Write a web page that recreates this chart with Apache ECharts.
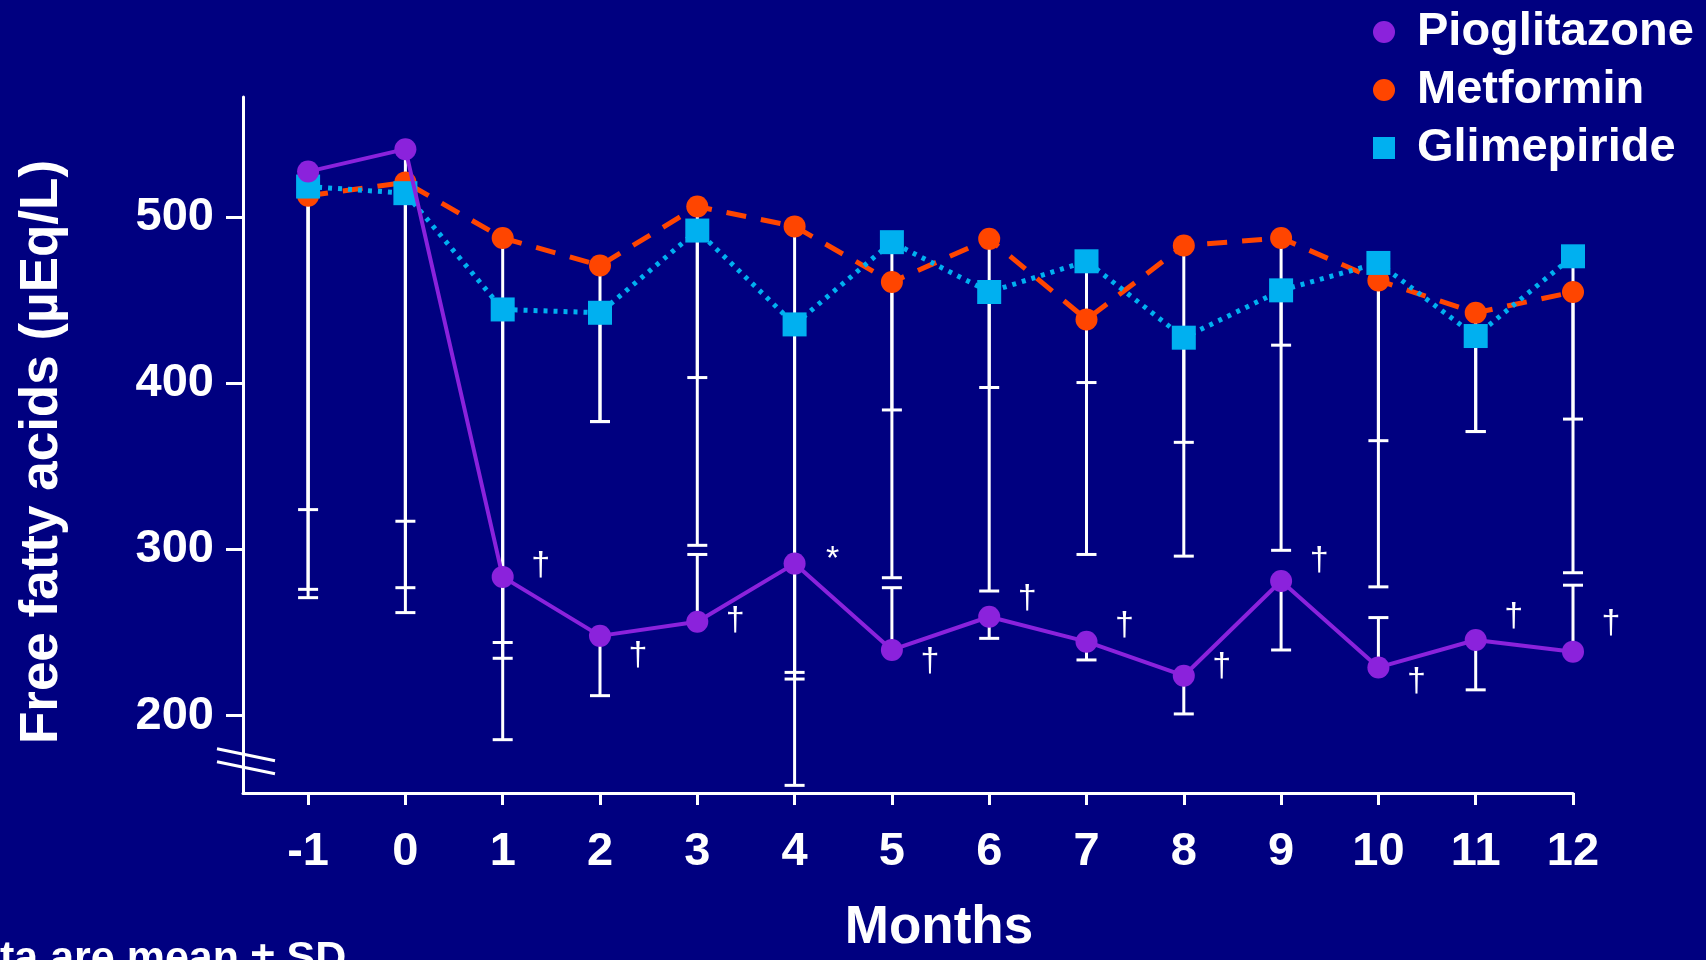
<!DOCTYPE html>
<html>
<head>
<meta charset="utf-8">
<title>Free fatty acids by month</title>
<script src="https://cdn.jsdelivr.net/npm/echarts@6/dist/echarts.min.js"></script>
<style>
  html, body { margin: 0; padding: 0; background: #000080; }
  #chart { width: 1706px; height: 960px; }
</style>
</head>
<body>
<div id="chart"></div>
<script>
// Months on study (-1 = screening)
const months = [-1, 0, 1, 2, 3, 4, 5, 6, 7, 8, 9, 10, 11, 12];

// Mean free fatty acids (µEq/L)
const pioglitazone = [527.5, 541, 283.5, 248, 256.5, 291.5, 239.5, 259.5, 244.5, 224, 281, 229, 245.5, 238.5];
const metformin    = [513, 521, 487.5, 471, 506.5, 494.5, 461, 487, 438.5, 483, 487.5, 462, 442.5, 455];
const glimepiride  = [518.5, 514.5, 444.5, 442.5, 492, 435.5, 485, 455, 473.5, 427.5, 456, 472.5, 428.5, 476.5];

// End point of each SD bar (µEq/L)
const pioglitazoneSD = [271, 262, 185.5, 212, 297, 158, 277, 246.5, 233.5, 201, 239.5, 259, 215.5, 278.5];
const metforminSD    = [324, 317, 244, 377, 403.5, 226, 384, 397.5, 400.5, 364.5, 423, 365.5, 371, 378.5];
const glimepirideSD  = [276, 277, 234.5, 377, 302.5, 222, 283, 275, 297, 296, 299.5, 277.5, 371, 286];

// Significance symbols next to the pioglitazone points, and the level they sit at
const sigMarks = ['', '', '\u2020', '\u2020', '\u2020', '*', '\u2020', '\u2020', '\u2020', '\u2020', '\u2020', '\u2020', '\u2020', '\u2020'];
const sigLevel = [null, null, 290, 236, 257, 294, 232.5, 270.5, 254, 229.5, 293, 220.5, 259.5, 255.5];

// Axis ticks
const yTicks = [200, 300, 400, 500];

const FONT = '"Liberation Sans", Arial, sans-serif';
const WHITE = '#ffffff';
const COLORS = { pio: '#8B22DC', met: '#FF4500', gli: '#00B0F0' };

const X_MIN = -1.669, X_MAX = 12;
const Y_MIN = 153.4, Y_MAX = 572.4;

const chart = echarts.init(document.getElementById('chart'), null, { renderer: 'canvas' });

function pairs(values) {
  return months.map((m, i) => [m, values[i]]);
}
function barData(means, ends) {
  return months.map((m, i) => [m, means[i], ends[i]]);
}

const CAP_HALF = 10;
function renderSDBar(params, api) {
  const x = api.value(0);
  const p0 = api.coord([x, api.value(1)]);
  const p1 = api.coord([x, api.value(2)]);
  const stroke = { stroke: WHITE, lineWidth: 3 };
  return {
    type: 'group',
    children: [
      { type: 'line', shape: { x1: p0[0], y1: p0[1], x2: p1[0], y2: p1[1] }, style: stroke },
      { type: 'line', shape: { x1: p1[0] - CAP_HALF, y1: p1[1], x2: p1[0] + CAP_HALF, y2: p1[1] }, style: stroke }
    ]
  };
}

function sdSeries(id, means, ends) {
  return {
    id: id,
    type: 'custom',
    renderItem: renderSDBar,
    data: barData(means, ends),
    encode: { x: 0, y: [1, 2] },
    z: 1,
    silent: true
  };
}

const sigData = months
  .map((m, i) => ({ value: [m, sigLevel[i]], mark: sigMarks[i] }))
  .filter(d => d.mark !== '');

const footnote = {
  type: 'text',
  left: -55,
  top: 938,
  style: { text: 'Data are mean \u00b1 SD', fill: WHITE, fontFamily: FONT, fontWeight: 'bold', fontSize: 43 }
};

const option = {
  backgroundColor: '#000080',
  animation: false,
  grid: { left: 243, right: 133, top: 97, bottom: 152, containLabel: false },
  legend: {
    left: 1373,
    top: 3,
    orient: 'vertical',
    padding: 0,
    itemGap: 0,
    itemWidth: 56,
    itemHeight: 22,
    selectedMode: false,
    symbolKeepAspect: true,
    textStyle: { color: WHITE, fontFamily: FONT, fontWeight: 'bold', fontSize: 47, lineHeight: 58 },
    data: [
      { name: 'Pioglitazone', icon: 'circle' },
      { name: 'Metformin', icon: 'circle' },
      { name: 'Glimepiride', icon: 'path://M0,0H10V10H0Z' }
    ]
  },
  xAxis: {
    type: 'value',
    min: X_MIN,
    max: X_MAX,
    name: 'Months',
    nameLocation: 'middle',
    nameGap: 109,
    nameTextStyle: { color: WHITE, fontFamily: FONT, fontWeight: 'bold', fontSize: 53, padding: [0, 0, 0, 62], verticalAlign: 'top' },
    axisLine: { show: true, onZero: false, lineStyle: { color: WHITE, width: 3 } },
    axisTick: { show: true, length: 12, customValues: months, lineStyle: { color: WHITE, width: 3 } },
    axisLabel: { show: true, customValues: months, margin: 36, color: WHITE, fontFamily: FONT, fontWeight: 'bold', fontSize: 47 },
    splitLine: { show: false }
  },
  yAxis: {
    type: 'value',
    min: Y_MIN,
    max: Y_MAX,
    name: 'Free fatty acids (\u00b5Eq/L)',
    nameLocation: 'middle',
    nameRotate: 90,
    nameGap: 174,
    nameTextStyle: { color: WHITE, fontFamily: FONT, fontWeight: 'bold', fontSize: 53, padding: [0, 14, 0, 0] },
    axisLine: { show: true, onZero: false, lineStyle: { color: WHITE, width: 3 } },
    axisTick: { show: true, length: 17, customValues: yTicks, lineStyle: { color: WHITE, width: 3 } },
    axisLabel: { show: true, customValues: yTicks, margin: 29, color: WHITE, fontFamily: FONT, fontWeight: 'bold', fontSize: 47 },
    splitLine: { show: false }
  },
  series: [
    sdSeries('sd-met', metformin, metforminSD),
    sdSeries('sd-gli', glimepiride, glimepirideSD),
    sdSeries('sd-pio', pioglitazone, pioglitazoneSD),
    {
      name: 'Metformin',
      type: 'line',
      data: pairs(metformin),
      symbol: 'circle',
      symbolSize: 22,
      z: 3,
      lineStyle: { color: COLORS.met, width: 5, type: [20, 15] },
      itemStyle: { color: COLORS.met, borderWidth: 0 }
    },
    {
      name: 'Glimepiride',
      type: 'line',
      data: pairs(glimepiride),
      symbol: 'rect',
      symbolSize: 24,
      z: 4,
      lineStyle: { color: COLORS.gli, width: 5, type: [4, 6] },
      itemStyle: { color: COLORS.gli, borderWidth: 0 }
    },
    {
      name: 'Pioglitazone',
      type: 'line',
      data: pairs(pioglitazone),
      symbol: 'circle',
      symbolSize: 22,
      z: 5,
      lineStyle: { color: COLORS.pio, width: 4 },
      itemStyle: { color: COLORS.pio, borderWidth: 0 }
    },
    {
      id: 'significance',
      type: 'custom',
      data: sigData,
      encode: { x: 0, y: 1 },
      z: 6,
      silent: true,
      renderItem: function (params, api) {
        const p = api.coord([api.value(0), api.value(1)]);
        return {
          type: 'text',
          x: p[0] + 38,
          y: p[1],
          style: {
            text: sigData[params.dataIndex].mark,
            fill: WHITE,
            fontFamily: FONT,
            fontSize: 34,
            align: 'center',
            verticalAlign: 'middle'
          }
        };
      }
    }
  ],
  graphic: [footnote]
};

chart.setOption(option);

// Axis-break marks across the bottom of the y axis
(function drawBreak() {
  const a = chart.convertToPixel({ xAxisIndex: 0, yAxisIndex: 0 }, [X_MIN, 172.5]);
  const ax = a[0], ay = a[1];
  const mk = (dy) => ({
    type: 'line',
    shape: { x1: ax - 26, y1: ay + dy - 6, x2: ax + 32, y2: ay + dy + 6 },
    style: { stroke: WHITE, lineWidth: 3 },
    z: 10
  });
  chart.setOption({ graphic: [footnote, mk(-6.5), mk(6.5)] });
})();
</script>
</body>
</html>
